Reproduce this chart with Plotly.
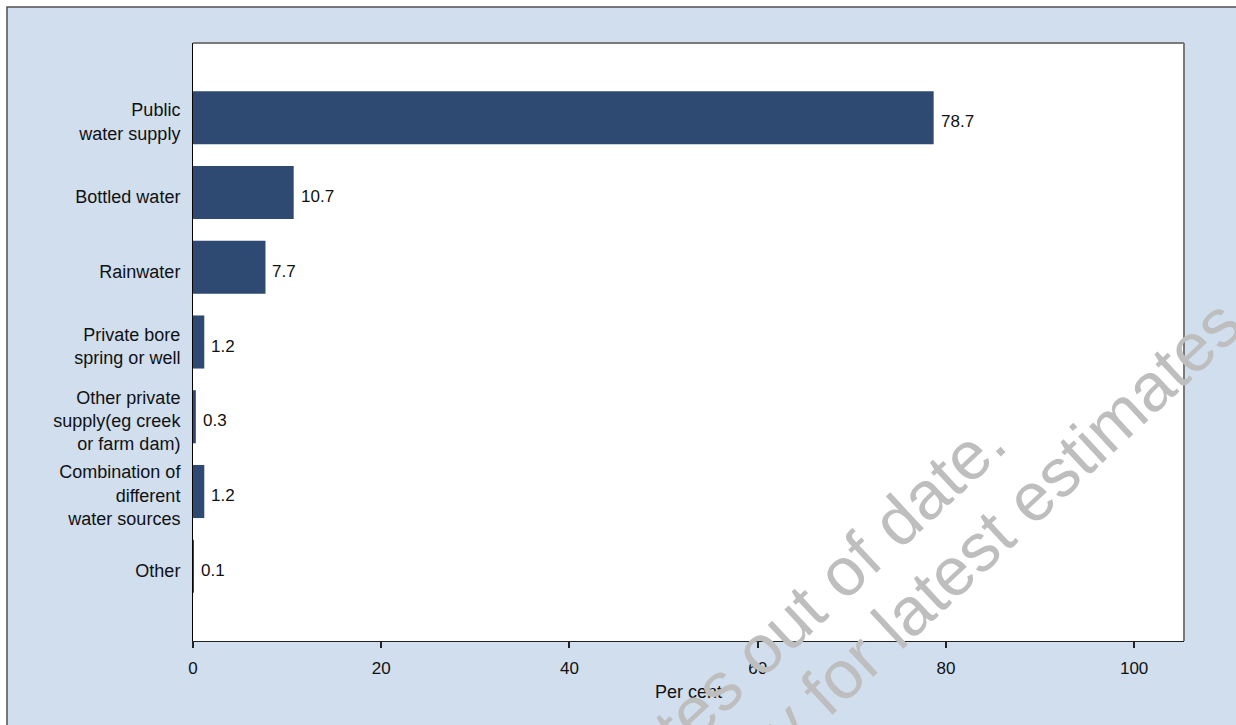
import plotly.graph_objects as go

categories = [
    "Public<br>water supply",
    "Bottled water",
    "Rainwater",
    "Private bore<br>spring or well",
    "Other private<br>supply(eg creek<br>or farm dam)",
    "Combination of<br>different<br>water sources",
    "Other",
]
values = [78.7, 10.7, 7.7, 1.2, 0.3, 1.2, 0.1]
x_ticks = [0, 20, 40, 60, 80, 100]

W, H = 1236, 725
ML, MR, MT, MB = 193, 52, 43, 84
PW, PH = W - ML - MR, H - MT - MB


def px(xp):
    return (xp - ML) / PW


def py(yp):
    return (H - MB - yp) / PH


FONT = "Liberation Sans, Arial, sans-serif"
BAR = "#2E4A72"
BG = "#D0DEEE"

fig = go.Figure(
    go.Bar(
        x=values,
        y=categories,
        orientation="h",
        width=0.71,
        marker=dict(color=BAR, line=dict(width=0)),
        hoverinfo="x+y",
    )
)

shapes = [
    dict(type="rect", xref="paper", yref="paper", x0=px(7), x1=px(1300),
         y0=py(7), y1=py(800), fillcolor=BG, line=dict(color="#505050", width=1.5),
         layer="below"),
    dict(type="rect", xref="paper", yref="paper", x0=0, x1=1, y0=0, y1=1,
         fillcolor="white", line=dict(width=0), layer="below"),
    dict(type="line", xref="paper", yref="paper", x0=0, x1=1, y0=1, y1=1,
         line=dict(color="#7A7A7A", width=2)),
    dict(type="line", xref="paper", yref="paper", x0=1, x1=1, y0=0, y1=1,
         line=dict(color="#7A7A7A", width=2)),
]

# value labels placed through the data axes
annotations = [
    dict(text=f"{v:.1f}", x=v, y=c, xref="x", yref="y", showarrow=False,
         xanchor="left", yanchor="middle", xshift=5, yshift=-4,
         font=dict(family=FONT, size=17, color="#111111"))
    for v, c in zip(values, categories)
]

wm_color = "#BEBEBE"
annotations += [
    dict(text="These estimates out of date.", xref="paper", yref="paper",
         x=px(680), y=py(723), showarrow=False, textangle=-43,
         font=dict(family=FONT, size=68, color=wm_color),
         xanchor="center", yanchor="middle"),
    dict(text="See Summary for latest estimates", xref="paper", yref="paper",
         x=px(856), y=py(660), showarrow=False, textangle=-43,
         font=dict(family=FONT, size=68, color=wm_color),
         xanchor="center", yanchor="middle"),
]

fig.update_layout(
    width=W, height=H,
    margin=dict(l=ML, r=MR, t=MT, b=MB, pad=0),
    paper_bgcolor="white",
    plot_bgcolor="white",
    showlegend=False,
    font=dict(family=FONT, color="#111111"),
    shapes=shapes,
    annotations=annotations,
    xaxis=dict(
        range=[0, 105.3],
        tickvals=x_ticks,
        ticks="outside", ticklen=6, tickwidth=2, tickcolor="#222222",
        ticklabelstandoff=6,
        tickfont=dict(family=FONT, size=17, color="#111111"),
        showline=True, linecolor="#222222", linewidth=1,
        showgrid=False, zeroline=False,
        title=dict(text="Per cent", font=dict(family=FONT, size=18, color="#111111"), standoff=7),
    ),
    yaxis=dict(
        range=[7.0, -1.0],
        ticks="outside", ticklen=8, tickcolor="rgba(0,0,0,0)",
        ticklabelshift=-4,
        tickfont=dict(family=FONT, size=18, color="#111111"),
        showline=True, linecolor="#000000", linewidth=1,
        showgrid=False, zeroline=False,
    ),
)

fig.write_html("out.html")
